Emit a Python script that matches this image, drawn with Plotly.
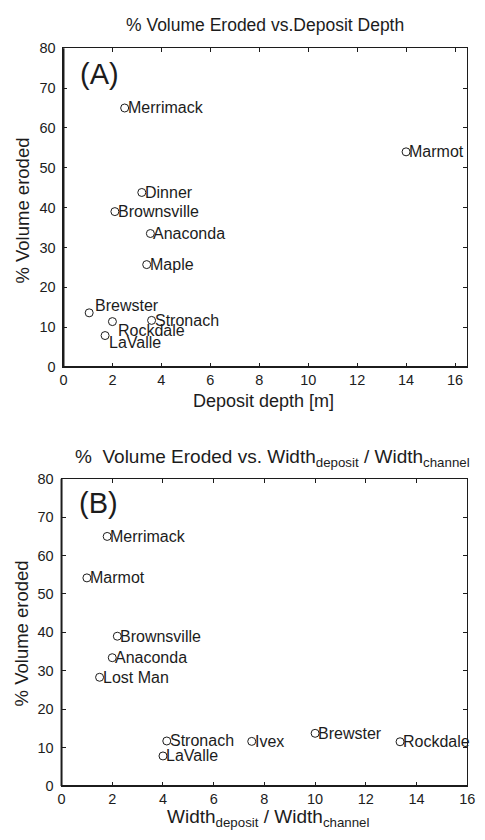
import plotly.graph_objects as go

# ---- data ----
names_a = ["Merrimack", "Marmot", "Dinner", "Brownsville", "Anaconda", "Maple",
           "Brewster", "Rockdale", "Stronach", "LaValle"]
depth_a = [2.5, 14.0, 3.2, 2.1, 3.55, 3.4, 1.05, 2.0, 3.6, 1.7]
eroded_a = [65.0, 54.0, 43.8, 39.0, 33.5, 25.7, 13.6, 11.4, 11.7, 7.9]

names_b = ["Merrimack", "Marmot", "Brownsville", "Anaconda", "Lost Man",
           "Stronach", "LaValle", "Ivex", "Brewster", "Rockdale"]
ratio_b = [1.8, 1.0, 2.2, 2.0, 1.5, 4.15, 4.0, 7.5, 10.0, 13.35]
eroded_b = [65.0, 54.2, 39.0, 33.4, 28.3, 11.7, 7.8, 11.6, 13.7, 11.5]

x_ticks = [0, 2, 4, 6, 8, 10, 12, 14, 16]
y_ticks = [0, 10, 20, 30, 40, 50, 60, 70, 80]

# special label offsets (pixels) for crowded labels in panel A
shift_a = {"Brewster": (4, 7), "Rockdale": (4, -9), "LaValle": (2, -7)}

W, H = 485, 840
FONT = "Liberation Sans, Arial, Helvetica, sans-serif"
INK = "#1c1c1c"

def px_x(p):
    return p / W

def px_y(p):
    return 1 - p / H

fig = go.Figure()

marker = dict(symbol="circle-open", size=8, color=INK, line=dict(width=1, color=INK))
fig.add_trace(go.Scatter(x=depth_a, y=eroded_a, mode="markers", marker=marker,
                         xaxis="x", yaxis="y", showlegend=False, hoverinfo="skip"))
fig.add_trace(go.Scatter(x=ratio_b, y=eroded_b, mode="markers", marker=marker,
                         xaxis="x2", yaxis="y2", showlegend=False, hoverinfo="skip"))

anns = []
for n, xv, yv in zip(names_a, depth_a, eroded_a):
    dx, dy = shift_a.get(n, (1, 0))
    anns.append(dict(x=xv, y=yv, xref="x", yref="y", text=n, showarrow=False,
                     xanchor="left", yanchor="middle", xshift=dx, yshift=dy,
                     font=dict(family=FONT, size=16, color=INK)))
for n, xv, yv in zip(names_b, ratio_b, eroded_b):
    anns.append(dict(x=xv, y=yv, xref="x2", yref="y2", text=n, showarrow=False,
                     xanchor="left", yanchor="middle", xshift=1, yshift=0,
                     font=dict(family=FONT, size=16, color=INK)))

# panel tags
anns.append(dict(x=px_x(76), y=px_y(67), xref="paper", yref="paper", text="(A)",
                 showarrow=False, xanchor="left", yanchor="middle",
                 font=dict(family=FONT, size=29, color=INK)))
anns.append(dict(x=px_x(75), y=px_y(505), xref="paper", yref="paper", text="(B)",
                 showarrow=False, xanchor="left", yanchor="middle",
                 font=dict(family=FONT, size=29, color=INK)))

# titles
anns.append(dict(x=px_x(268), y=px_y(17), xref="paper", yref="paper",
                 text="% Volume Eroded vs.Deposit Depth", showarrow=False,
                 xanchor="center", yanchor="middle",
                 font=dict(family=FONT, size=17.5, color=INK)))
anns.append(dict(x=px_x(275), y=px_y(459), xref="paper", yref="paper",
                 text="%\u00a0 Volume Eroded vs. Width<sub>deposit</sub> / Width<sub>channel</sub>",
                 showarrow=False, xanchor="center", yanchor="middle",
                 font=dict(family=FONT, size=19, color=INK)))

# axis titles
anns.append(dict(x=px_x(266), y=px_y(401), xref="paper", yref="paper",
                 text="Deposit depth [m]", showarrow=False,
                 xanchor="center", yanchor="middle",
                 font=dict(family=FONT, size=18, color=INK)))
anns.append(dict(x=px_x(271), y=px_y(826), xref="paper", yref="paper",
                 text="Width<sub>deposit</sub> / Width<sub>channel</sub>", showarrow=False,
                 xanchor="center", yanchor="middle",
                 font=dict(family=FONT, size=19, color=INK)))
anns.append(dict(x=px_x(19), y=px_y(207), xref="paper", yref="paper",
                 text="% Volume eroded", showarrow=False, textangle=-90,
                 xanchor="center", yanchor="middle",
                 font=dict(family=FONT, size=18.5, color=INK)))
anns.append(dict(x=px_x(18), y=px_y(638), xref="paper", yref="paper",
                 text="% Volume eroded", showarrow=False, textangle=-90,
                 xanchor="center", yanchor="middle",
                 font=dict(family=FONT, size=18.5, color=INK)))

axis_common = dict(showgrid=False, zeroline=False, showline=True, linewidth=1,
                   linecolor=INK, mirror="ticks", ticks="inside", ticklen=4,
                   tickwidth=1, tickcolor=INK,
                   tickfont=dict(family=FONT, size=14.5, color=INK), fixedrange=True)

fig.update_layout(
    width=W, height=H,
    margin=dict(l=0, r=0, t=0, b=0),
    paper_bgcolor="white", plot_bgcolor="white",
    xaxis=dict(axis_common, domain=[px_x(61), px_x(475)], range=[0, 16.5],
               tickvals=x_ticks, anchor="y", ticklabelstandoff=0),
    yaxis=dict(axis_common, domain=[px_y(366), px_y(41)], range=[0, 80],
               tickvals=y_ticks, anchor="x", ticklabelstandoff=4),
    xaxis2=dict(axis_common, domain=[px_x(59), px_x(475)], range=[0, 16],
                tickvals=x_ticks, anchor="y2", ticklabelstandoff=0),
    yaxis2=dict(axis_common, domain=[px_y(793), px_y(480)], range=[0, 80],
                tickvals=y_ticks, anchor="x2", ticklabelstandoff=4),
    annotations=anns,
    shapes=[
        dict(type="line", xref="x domain", yref="y domain", x0=0, x1=0, y0=0, y1=1,
             line=dict(color=INK, width=2)),
        dict(type="line", xref="x domain", yref="y domain", x0=0, x1=1, y0=0, y1=0,
             line=dict(color=INK, width=2)),
        dict(type="line", xref="x2 domain", yref="y2 domain", x0=0, x1=0, y0=0, y1=1,
             line=dict(color=INK, width=2)),
        dict(type="line", xref="x2 domain", yref="y2 domain", x0=0, x1=1, y0=0, y1=0,
             line=dict(color=INK, width=2)),
    ],
)

fig.write_html("out.html", config={"displayModeBar": False})
